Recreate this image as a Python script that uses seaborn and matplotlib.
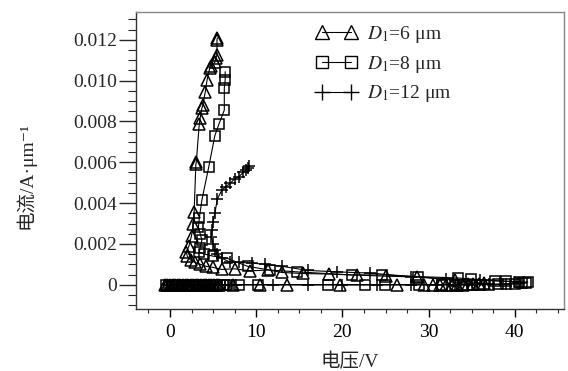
import numpy as np
import pandas as pd
import matplotlib
matplotlib.use("Agg")
import matplotlib.pyplot as plt
import seaborn as sns
from matplotlib.lines import Line2D
from matplotlib.ticker import MultipleLocator, FuncFormatter

# ---------------- data ----------------
# D1 = 6 um (triangles)
v6_off = [-0.6, -0.3, 0.0, 0.3, 0.6, 0.9, 1.2, 1.5, 1.8, 2.1, 2.4, 2.7, 3.0, 3.3, 3.6,
          3.9, 4.2, 4.5, 4.8, 5.1, 5.4, 5.7, 7.3, 10.4, 13.6, 19.7, 26.3, 29.5, 30.5,
          31.3, 32.0, 32.7, 33.3, 34.0, 34.6, 35.2, 35.8, 36.4]
i6_off = [0.0] * 34 + [0.00002, 0.00003, 0.00005, 0.00007]
v6_on = [33.0, 28.6, 25.0, 21.7, 18.5, 15.4, 13.0, 11.4, 9.3, 7.5, 6.0, 5.0, 4.2, 3.5,
         2.9, 2.4, 2.0, 1.9, 2.2, 2.5, 2.7, 2.8, 3.0, 3.05, 3.4, 3.5, 3.7, 3.8, 4.1,
         4.3, 4.6, 4.8, 5.2, 5.3, 5.45, 5.45, 5.5]
i6_on = [0.00022, 0.00038, 0.00042, 0.00047, 0.00052, 0.00055, 0.00060, 0.00072,
         0.00068, 0.00078, 0.00075, 0.00085, 0.00090, 0.00100, 0.00110, 0.00120,
         0.00140, 0.00160, 0.00190, 0.00240, 0.00300, 0.00357, 0.00590, 0.00600,
         0.00790, 0.00816, 0.00865, 0.00880, 0.00946, 0.01003, 0.01060, 0.01070,
         0.01090, 0.01110, 0.01126, 0.01200, 0.01210]

# D1 = 8 um (squares)
v8_off = [-0.5, -0.15, 0.2, 0.55, 0.9, 1.25, 1.6, 1.95, 2.3, 2.65, 3.0, 3.35, 3.7,
          4.05, 4.4, 4.75, 5.1, 5.45, 5.8, 6.15, 6.5, 8.0, 10.2, 18.3, 22.6, 24.9,
          28.9, 31.5, 33.0, 34.0, 35.0, 36.0, 37.0, 38.0, 39.0, 40.0, 40.8, 41.3]
i8_off = [0.0] * 33 + [0.00002, 0.00003, 0.00004, 0.00006, 0.00008]
v8_on = [41.5, 40.5, 39.0, 37.7, 34.9, 33.4, 28.8, 24.6, 21.1, 14.7, 11.6, 9.0, 6.6,
         5.0, 4.0, 3.4, 3.5, 3.7, 3.5, 3.3, 3.4, 3.7, 4.5, 5.2, 5.7, 6.3, 6.3, 6.4, 6.4]
i8_on = [0.00013, 0.00015, 0.00017, 0.00020, 0.00028, 0.00033, 0.00040, 0.00048,
         0.00048, 0.00063, 0.00072, 0.00090, 0.00130, 0.00140, 0.00150, 0.00160,
         0.00180, 0.00220, 0.00250, 0.00283, 0.00327, 0.00415, 0.00578, 0.00730,
         0.00790, 0.00856, 0.00963, 0.01003, 0.01044]

# D1 = 12 um (plus)
v12_off = [-0.4, 0.0, 0.4, 0.8, 1.2, 1.6, 2.0, 2.4, 2.8, 3.2, 3.6, 4.0, 4.4, 4.8, 5.2,
           5.6, 6.0, 6.4, 6.8, 7.2, 7.6, 12.0, 16.0, 20.0, 24.0, 28.0, 31.0, 33.0,
           35.0, 37.0, 39.0, 40.5]
i12_off = [0.0] * 29 + [0.00002, 0.00004, 0.00006]
v12_on = [40.0, 36.0, 32.0, 28.0, 23.2, 19.4, 16.0, 13.0, 11.0, 9.5, 8.0, 7.0, 6.0,
          5.5, 5.2, 5.0, 4.8, 4.9, 5.0, 5.2, 5.5, 6.0, 6.5, 7.0, 7.5, 8.0, 8.5, 8.8,
          9.1, 9.2]
i12_on = [0.00015, 0.00022, 0.00030, 0.00040, 0.00057, 0.00063, 0.00070, 0.00090,
          0.00100, 0.00106, 0.00110, 0.00110, 0.00130, 0.00150, 0.00170, 0.00200,
          0.00234, 0.00268, 0.00307, 0.00350, 0.00420, 0.00463, 0.00480, 0.00497,
          0.00520, 0.00530, 0.00550, 0.00560, 0.00570, 0.00580]

labels = [r"$\mathit{D}_{1}$=6 μm", r"$\mathit{D}_{1}$=8 μm", r"$\mathit{D}_{1}$=12 μm"]
x_ticks = [0, 10, 20, 30, 40]
y_ticks = [0, 0.002, 0.004, 0.006, 0.008, 0.010, 0.012]

# ---------------- style ----------------
sns.set_style("ticks")
plt.rcParams["font.family"] = ["Liberation Serif", "Noto Sans CJK SC", "DejaVu Serif"]
plt.rcParams["mathtext.fontset"] = "stix"

fig = plt.figure(figsize=(5.68, 3.71), dpi=100)
ax = fig.add_axes([135.5 / 568, 1 - 309 / 371, (564 - 135.5) / 568, (309 - 11.7) / 371])

series = [
    (v6_off + v6_on, i6_off + i6_on, "^", 8),
    (v8_off + v8_on, i8_off + i8_on, "s", 7),
    (v12_off + v12_on, i12_off + i12_on, "+", 9),
]
for (vv, ii, mk, ms), lab in zip(series, labels):
    df = pd.DataFrame({"V": vv, "I": ii})
    sns.lineplot(data=df, x="V", y="I", sort=False, estimator=None, ax=ax,
                 color="black", lw=0.8, marker=mk, ms=ms, mfc="none", mec="black",
                 mew=1.1, legend=False)

ax.set_xlim(-4.0, 45.7)
ax.set_ylim(-0.00119, 0.01338)
ax.set_xticks(x_ticks)
ax.set_yticks(y_ticks)
ax.xaxis.set_minor_locator(MultipleLocator(2.5))
ax.yaxis.set_minor_locator(MultipleLocator(0.0005))
ax.yaxis.set_major_formatter(FuncFormatter(lambda v, p: "0" if abs(v) < 1e-9 else f"{v:.3f}"))
ax.tick_params(axis="x", which="major", length=6, width=1, pad=5, labelsize=14, colors="black")
ax.tick_params(axis="x", which="minor", length=3, width=0.8)
ax.tick_params(axis="y", which="major", length=12.5, width=1, pad=1, labelsize=14)
ax.tick_params(axis="y", which="minor", length=6, width=0.8)

for s in ["left", "bottom"]:
    ax.spines[s].set_color("#333333")
    ax.spines[s].set_linewidth(1.0)
for s in ["top", "right"]:
    ax.spines[s].set_color("#888888")
    ax.spines[s].set_linewidth(1.0)

ax.set_xlabel("电压/V", fontsize=14, va="center")
ax.set_ylabel("电流/A·μm⁻¹", fontsize=14, va="center")
ax.xaxis.set_label_coords(0.5006, -0.178)
ax.yaxis.set_label_coords(-0.258, 0.45)

handles = [
    Line2D([0], [0], color="black", lw=0.8, marker="^", ms=10, mfc="none", mec="black", mew=1.0),
    Line2D([0], [0], color="black", lw=0.8, marker="s", ms=9, mfc="none", mec="black", mew=1.0),
    Line2D([0], [0], color="black", lw=0.8, marker="+", ms=11, mfc="none", mec="black", mew=1.0),
]
leg = ax.legend(handles, labels, loc="upper left", bbox_to_anchor=(316 / 568, 1 - 24 / 371),
                bbox_transform=fig.transFigure, frameon=False, numpoints=2,
                handlelength=2.1, handletextpad=0.5, labelspacing=0.45, borderpad=0,
                borderaxespad=0, fontsize=14)

fig.savefig("out.png", dpi=100)
